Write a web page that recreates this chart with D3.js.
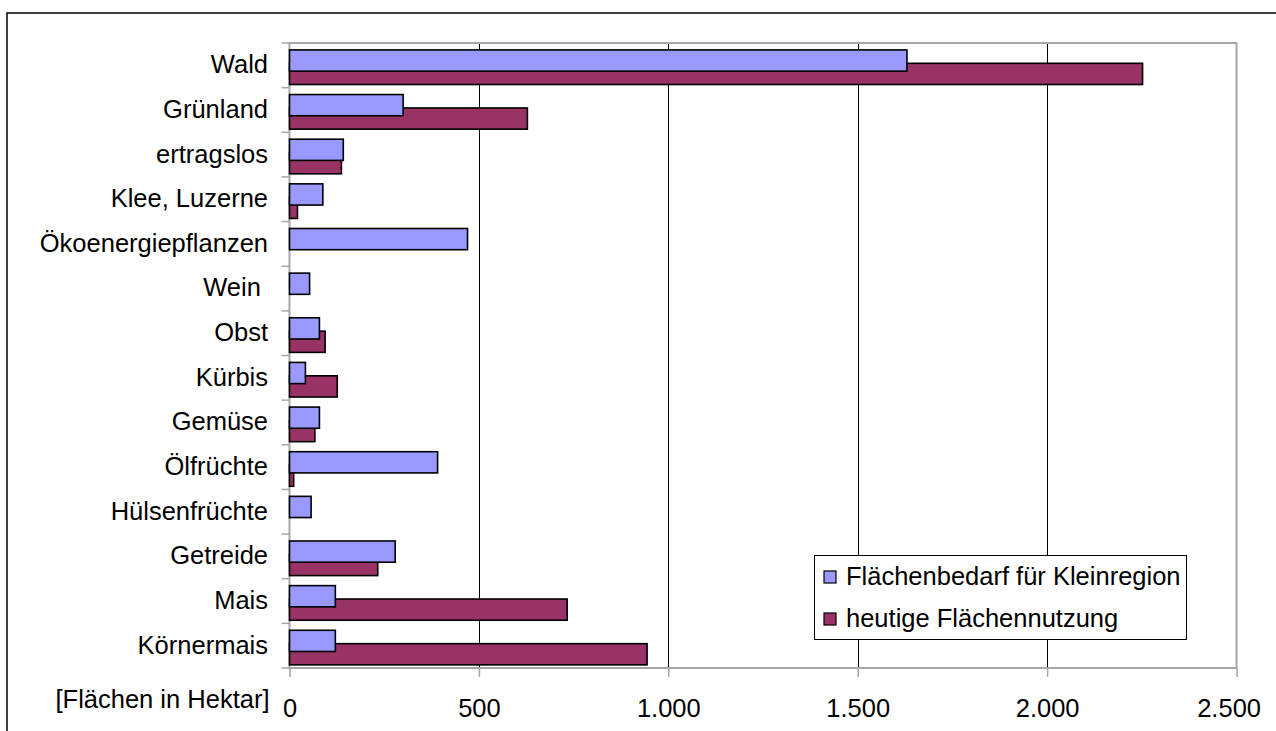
<!DOCTYPE html>
<html>
<head>
<meta charset="utf-8">
<script src="https://cdn.jsdelivr.net/npm/d3@7"></script>
<style>
  html, body { margin: 0; padding: 0; background: #fff; }
  svg { display: block; }
  text { font-family: "Liberation Sans", Arial, sans-serif; fill: #000; }
</style>
</head>
<body>
<svg id="chart" width="1276" height="731"></svg>
<script>
// Land use categories (top to bottom)
const categories = ["Wald", "Grünland", "ertragslos", "Klee, Luzerne", "Ökoenergiepflanzen", "Wein ",
  "Obst", "Kürbis", "Gemüse", "Ölfrüchte", "Hülsenfrüchte", "Getreide", "Mais", "Körnermais"];

// Area demand for the small region (ha)
const bedarf = [1630, 300, 142, 88, 470, 53, 79, 42, 79, 391, 57, 279, 121, 121];

// Current land use (ha)
const heutige = [2252, 628, 137, 21, 0, 0, 94, 126, 67, 11, 0, 233, 733, 944];

const seriesNames = ["Flächenbedarf für Kleinregion", "heutige Flächennutzung"];
const seriesColors = ["#9999ff", "#993366"];

const xTicks = [0, 500, 1000, 1500, 2000, 2500];
const xTitle = "[Flächen in Hektar]";

const fmt = v => d3.format(",")(v).replace(/,/g, ".");

const svg = d3.select("#chart");
const W = 1276, H = 731;
const plot = { left: 289.5, right: 1236.5, top: 43, bottom: 668 };
const fontSize = 25.5;

// outer frame
svg.append("rect")
  .attr("x", 7).attr("y", 13)
  .attr("width", W + 20).attr("height", H + 20)
  .attr("fill", "#fff").attr("stroke", "#000").attr("stroke-width", 1.5);

const x = d3.scaleLinear().domain([0, 2500]).range([plot.left, plot.right]);
const y = d3.scaleBand().domain(categories).range([plot.top, plot.bottom]).padding(0);
const bw = y.bandwidth();

// vertical grid lines
svg.append("g").selectAll("line")
  .data(xTicks.filter(t => t > 0 && t < 2500))
  .join("line")
  .attr("x1", d => Math.round(x(d)) + 0.5).attr("x2", d => Math.round(x(d)) + 0.5)
  .attr("y1", plot.top).attr("y2", plot.bottom)
  .attr("stroke", "#000").attr("stroke-width", 1);

// plot frame
svg.append("rect")
  .attr("x", plot.left).attr("y", plot.top)
  .attr("width", plot.right - plot.left).attr("height", plot.bottom - plot.top)
  .attr("fill", "none").attr("stroke", "#a6a6a6").attr("stroke-width", 2);

// category axis (left)
const yAxis = d3.axisLeft(y).tickSize(0).tickPadding(0);
const yG = svg.append("g").attr("transform", `translate(${plot.left},0)`).call(yAxis);
yG.select(".domain").remove();
yG.selectAll("text")
  .attr("x", -21.5).attr("dy", "0.31em")
  .style("font-size", fontSize + "px")
  .style("font-family", '"Liberation Sans", Arial, sans-serif')
  .style("white-space", "pre")
  .attr("text-anchor", "end");

// category boundary ticks
svg.append("g").selectAll("line")
  .data(d3.range(categories.length + 1))
  .join("line")
  .attr("x1", plot.left - 8).attr("x2", plot.left)
  .attr("y1", i => plot.top + i * bw).attr("y2", i => plot.top + i * bw)
  .attr("stroke", "#a6a6a6").attr("stroke-width", 1.5);

// value axis (bottom)
const xAxis = d3.axisBottom(x).tickValues(xTicks).tickFormat(fmt).tickSize(9).tickPadding(22);
const xG = svg.append("g").attr("transform", `translate(0,${plot.bottom})`).call(xAxis);
xG.select(".domain").remove();
xG.selectAll(".tick line").attr("stroke", "#a6a6a6").attr("stroke-width", 1.5);
xG.selectAll("text")
  .style("font-size", fontSize + "px")
  .style("font-family", '"Liberation Sans", Arial, sans-serif')
  .attr("dy", "0.71em");
// keep tick labels inside the frame
xG.selectAll(".tick text").each(function () {
  const b = this.getBBox();
  const tr = this.parentNode.transform.baseVal.consolidate().matrix.e;
  const right = tr + b.x + b.width;
  if (right > W - 15) d3.select(this).attr("x", (W - 15) - right);
});

// axis title
svg.append("text")
  .attr("x", x(0) - 20).attr("y", plot.bottom + 22)
  .attr("dy", "0.71em")
  .attr("text-anchor", "end")
  .style("font-size", fontSize + "px")
  .text(xTitle);

// bars: current use underneath, demand drawn on top
const barH = bw * 0.475;
const rows = categories.map((c, i) => ({ c, a: bedarf[i], b: heutige[i] }));

svg.append("g").selectAll("rect")
  .data(rows.filter(d => d.b > 0))
  .join("rect")
  .attr("x", x(0)).attr("y", d => y(d.c) + bw * 0.455)
  .attr("width", d => x(d.b) - x(0)).attr("height", barH)
  .attr("fill", seriesColors[1]).attr("stroke", "#000").attr("stroke-width", 1.6);

svg.append("g").selectAll("rect")
  .data(rows.filter(d => d.a > 0))
  .join("rect")
  .attr("x", x(0)).attr("y", d => y(d.c) + bw * 0.155)
  .attr("width", d => x(d.a) - x(0)).attr("height", barH)
  .attr("fill", seriesColors[0]).attr("stroke", "#000").attr("stroke-width", 1.6);

// legend
const lg = svg.append("g");
lg.append("rect")
  .attr("x", 814.5).attr("y", 555.5).attr("width", 372).attr("height", 84)
  .attr("fill", "#fff").attr("stroke", "#000").attr("stroke-width", 1);
const items = lg.selectAll("g.item").data(seriesNames).join("g").attr("class", "item")
  .attr("transform", (d, i) => `translate(0,${577 + i * 42})`);
items.append("rect")
  .attr("x", 824).attr("y", -6).attr("width", 12).attr("height", 12)
  .attr("fill", (d, i) => seriesColors[i]).attr("stroke", "#000").attr("stroke-width", 1.2);
items.append("text")
  .attr("x", 846).attr("dy", "0.33em")
  .style("font-size", fontSize + "px")
  .text(d => d);
</script>
</body>
</html>
